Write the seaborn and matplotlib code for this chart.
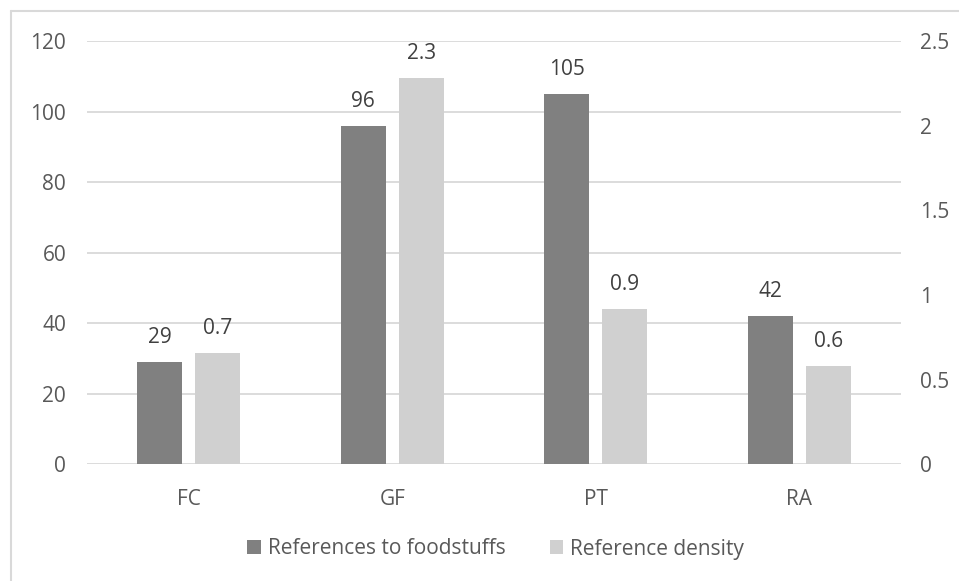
import pandas as pd
import seaborn as sns
import matplotlib.pyplot as plt
from matplotlib.patches import Patch
from matplotlib.lines import Line2D

# data
categories = ['FC', 'GF', 'PT', 'RA']
foodstuffs = [29, 96, 105, 42]
density = [0.66, 2.28, 0.92, 0.58]
series = ['References to foodstuffs', 'Reference density']
left_max, right_max = 120, 2.5
left_ticks = [0, 20, 40, 60, 80, 100, 120]
right_ticks = [0, 0.5, 1, 1.5, 2, 2.5]
right_tick_labels = ['0', '0.5', '1', '1.5', '2', '2.5']

# density is drawn against the secondary axis: put it on the primary scale
scale = left_max / right_max
df = pd.concat([
    pd.DataFrame({'cat': categories, 'series': series[0], 'value': foodstuffs}),
    pd.DataFrame({'cat': categories, 'series': series[1],
                  'value': [v * scale for v in density]}),
])

sns.set_theme(style='white')
plt.rcParams['font.family'] = ['Open Sans', 'DejaVu Sans']
text_col = '#595959'
label_col = '#404040'
grid_col = '#D9D9D9'
fs = 15
palette = {series[0]: '#808080', series[1]: '#D0D0D0'}

fig = plt.figure(figsize=(9.59, 5.81), dpi=100)
ax1 = fig.add_axes([0.0907, 0.2009, 0.8488, 0.7285])
ax2 = ax1.twinx()

sns.barplot(data=df, x='cat', y='value', hue='series', hue_order=series,
            palette=palette, order=categories, width=0.57, gap=0.23,
            errorbar=None, legend=False, linewidth=0, ax=ax1)

ax1.set_ylim(0, left_max)
ax2.set_ylim(0, right_max)
ax1.set_yticks(left_ticks)
ax2.set_yticks(right_ticks)
ax2.set_yticklabels(right_tick_labels)
ax1.set_xlim(-0.5, 3.5)

for ax in (ax1, ax2):
    for s in ax.spines.values():
        s.set_visible(False)
    ax.set_xlabel('')
    ax.set_ylabel('')
    ax.tick_params(length=0, labelsize=fs, colors=text_col)
    ax.grid(False)

ax1.tick_params(axis='y', pad=15)
ax2.tick_params(axis='y', pad=14)
ax1.tick_params(axis='x', pad=18)
ax1.set_axisbelow(True)
ax1.yaxis.grid(True, color=grid_col, lw=1.3)

# value labels
label_sets = [[f'{v:g}' for v in foodstuffs], [f'{v:.1f}' for v in density]]
for c, labels in zip(ax1.containers, label_sets):
    ax1.bar_label(c, labels=labels, padding=10, fontsize=fs, color=label_col)

# legend
handles = [Patch(facecolor=palette[s], edgecolor='none') for s in series]
fig.legend(handles, series, loc='center', bbox_to_anchor=(0.517, 1 - 549 / 581),
           ncol=2, frameon=False, fontsize=fs, handlelength=0.65, handleheight=0.65,
           handletextpad=0.35, columnspacing=2.1, labelcolor=text_col)

# chart border (only left and top visible in the crop)
fig.add_artist(Line2D([11 / 959, 11 / 959], [0, 1 - 11 / 581], color=grid_col, lw=1.5,
                      transform=fig.transFigure))
fig.add_artist(Line2D([11 / 959, 1], [1 - 11 / 581, 1 - 11 / 581], color=grid_col, lw=1.5,
                      transform=fig.transFigure))

plt.savefig('out.png', dpi=100)
